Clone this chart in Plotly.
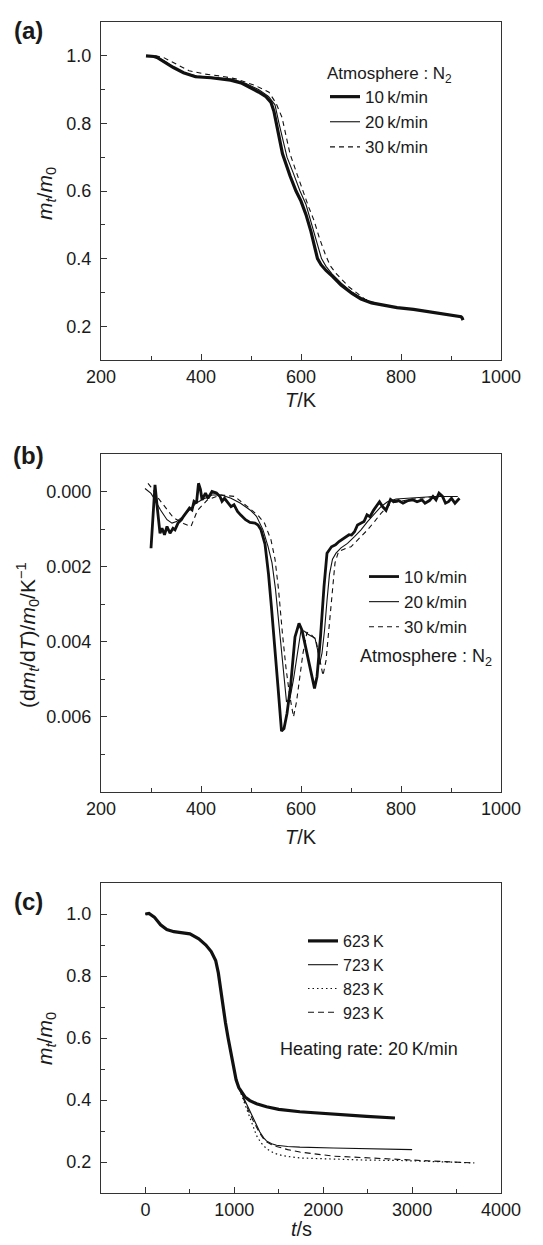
import plotly.graph_objects as go

# ---------------- Panel (a): TG curves, m_t/m_0 vs T ----------------
T_a10 = [290, 300, 306, 312, 325, 344, 365, 389, 420, 459, 480, 498, 515, 530, 540, 546, 551, 557, 563, 570,
         578, 590, 600, 610, 620, 628, 633, 640, 650, 664, 680, 702, 720, 741, 765, 792, 825, 856, 890, 920, 922, 924]
m_a10 = [1.0, 1.0, 0.998, 0.995, 0.983, 0.966, 0.95, 0.938, 0.935, 0.928, 0.92, 0.907, 0.893, 0.879, 0.862, 0.835,
         0.8, 0.75, 0.71, 0.68, 0.645, 0.6, 0.57, 0.53, 0.48, 0.43, 0.40, 0.382, 0.365, 0.346, 0.322, 0.297, 0.28,
         0.269, 0.262, 0.255, 0.25, 0.243, 0.235, 0.228, 0.225, 0.218]
T_a20 = [290, 300, 312, 330, 350, 370, 392, 420, 460, 490, 515, 535, 548, 556, 564, 572, 584, 598, 610, 622,
         633, 641, 650, 662, 680, 700, 720, 745, 770, 800, 830, 860, 890, 920]
m_a20 = [1.0, 1.0, 0.997, 0.982, 0.962, 0.948, 0.94, 0.937, 0.931, 0.918, 0.9, 0.88, 0.855, 0.8, 0.75, 0.7,
         0.655, 0.6, 0.56, 0.5, 0.44, 0.4, 0.377, 0.355, 0.328, 0.303, 0.285, 0.268, 0.26, 0.254, 0.249, 0.243,
         0.236, 0.228]
T_a30 = [290, 310, 325, 344, 360, 376, 408, 440, 472, 510, 536, 550, 562, 570, 578, 592, 606, 616, 626, 637,
         648, 658, 670, 696, 728, 760]
m_a30 = [1.0, 1.0, 0.995, 0.98, 0.967, 0.956, 0.946, 0.94, 0.931, 0.911, 0.892, 0.86, 0.818, 0.76, 0.71, 0.65,
         0.59, 0.55, 0.513, 0.46, 0.415, 0.38, 0.356, 0.316, 0.28, 0.262]

# ---------------- Panel (b): DTG curves ----------------
T_b10 = [300, 308, 313, 318, 322, 327, 332, 338, 344, 348, 354, 361, 365, 370, 377, 382, 386, 391, 395, 399,
         402, 409, 414, 422, 431, 438, 442, 447, 454, 460, 466, 473, 479, 489, 498, 508, 514, 520, 528, 535,
         541, 547, 554, 561, 566, 572, 579, 588, 596, 602, 609, 619, 627, 632, 639, 646, 652, 661, 669, 676,
         686, 696, 701, 707, 713, 720, 726, 732, 738, 745, 751, 757, 763, 770, 779, 785, 795, 804, 814, 823,
         832, 842, 848, 857, 864, 870, 876, 883, 889, 895, 901, 908, 917]
d_b10 = [0.00151, -0.00018, 0.00049, 0.00111, 0.00098, 0.00115, 0.00093, 0.00111, 0.00098, 0.00102, 0.00084,
         0.00075, 0.00066, 0.00056, 0.00044, 0.00049, 0.00026, 0.00031, -0.00022, -0.00005, 0.00022, 0.00004,
         0.00018, 0.0, 0.00004, 0.00013, 0.00026, 0.00018, 0.00031, 0.0004, 0.00035, 0.00053, 0.00062, 0.00075,
         0.00082, 0.00084, 0.00089, 0.00102, 0.0014, 0.0022, 0.0031, 0.0040, 0.0052, 0.00638, 0.00631, 0.00591,
         0.0052, 0.00387, 0.00351, 0.00369, 0.00413, 0.00476, 0.00524, 0.00493, 0.00387, 0.00253, 0.00164,
         0.00147, 0.00142, 0.00133, 0.00124, 0.00115, 0.00116, 0.00107, 0.00089, 0.00085, 0.0008, 0.00062,
         0.00067, 0.0005, 0.0004, 0.00027, 0.0004, 0.0005, 0.00021, 0.00027, 0.00024, 0.00031, 0.00024, 0.00022,
         0.00027, 0.00022, 0.00031, 0.00024, 0.00013, 0.00022, 0.00004, 0.00013, 0.00031, 0.00027, 0.00018,
         0.00031, 0.00018]
T_b20 = [288, 300, 306, 319, 332, 342, 351, 364, 377, 390, 402, 422, 441, 460, 479, 498, 511, 524, 534, 542,
         549, 556, 563, 571, 578, 585, 593, 600, 607, 614, 621, 628, 633, 637, 642, 647, 652, 657, 663, 670,
         680, 693, 707, 720, 733, 747, 760, 773, 790, 813, 840, 867, 890, 913]
d_b20 = [-0.00008, 0.00005, 0.00018, 0.00049, 0.00075, 0.00084, 0.0008, 0.00066, 0.00049, 0.00031, 0.00022,
         0.00009, 0.00009, 0.00018, 0.00031, 0.00049, 0.00066, 0.00102, 0.00146, 0.0019, 0.0026, 0.0036, 0.0046,
         0.0056, 0.0055, 0.0050, 0.0043, 0.0037, 0.00372, 0.0038, 0.00385, 0.0039, 0.0042, 0.0046, 0.0043,
         0.0037, 0.0029, 0.0022, 0.0018, 0.00164, 0.0015, 0.00138, 0.0012, 0.00102, 0.0008, 0.00058, 0.0004,
         0.00027, 0.0002, 0.00018, 0.00015, 0.00013, 0.00013, 0.00013]
T_b30 = [294, 300, 313, 328, 345, 365, 380, 393, 413, 440, 467, 493, 515, 527, 540, 548, 555, 563, 570, 577,
         585, 591, 597, 604, 612, 620, 630, 638, 644, 650, 656, 662, 668, 675, 688, 700, 717, 733, 747, 760,
         780, 813, 867, 913]
d_b30 = [-0.00022, -0.00012, 0.00015, 0.0004, 0.0007, 0.00085, 0.00093, 0.0005, 0.00022, 0.00009, 0.00013,
         0.0004, 0.00065, 0.00084, 0.00129, 0.0018, 0.0026, 0.0038, 0.0047, 0.0054, 0.0060, 0.0056, 0.0050,
         0.0043, 0.00375, 0.0038, 0.00396, 0.0045, 0.0049, 0.0045, 0.0037, 0.0027, 0.0019, 0.0016, 0.00152,
         0.00147, 0.00125, 0.00102, 0.0008, 0.00058, 0.00031, 0.00022, 0.00013, 0.00013]

# ---------------- Panel (c): isothermal end temperatures ----------------
t_c623 = [0, 40, 100, 170, 240, 320, 400, 500, 600, 680, 740, 790, 820, 845, 870, 900, 930, 960, 990, 1020,
          1050, 1080, 1120, 1174, 1250, 1362, 1500, 1737, 2112, 2488, 2807]
m_c623 = [1.0, 1.002, 0.99, 0.965, 0.95, 0.943, 0.94, 0.936, 0.92, 0.9, 0.879, 0.85, 0.81, 0.76, 0.7, 0.65,
          0.6, 0.555, 0.51, 0.465, 0.44, 0.425, 0.41, 0.398, 0.388, 0.378, 0.37, 0.362, 0.354, 0.347, 0.342]
t_c723 = [0, 40, 100, 170, 240, 320, 400, 500, 600, 680, 740, 790, 820, 845, 870, 900, 930, 960, 990, 1020,
          1050, 1100, 1137, 1175, 1212, 1250, 1287, 1330, 1362, 1420, 1475, 1600, 1737, 2112, 2488, 2800, 3000]
m_c723 = [1.0, 1.002, 0.99, 0.965, 0.95, 0.943, 0.94, 0.936, 0.92, 0.9, 0.879, 0.85, 0.81, 0.76, 0.7, 0.65,
          0.6, 0.555, 0.51, 0.465, 0.44, 0.41, 0.383, 0.36, 0.34, 0.318, 0.297, 0.278, 0.268, 0.259, 0.254,
          0.25, 0.248, 0.245, 0.243, 0.241, 0.24]
t_c823 = [0, 40, 100, 170, 240, 320, 400, 500, 600, 680, 740, 790, 820, 845, 870, 900, 930, 960, 990, 1020,
          1050, 1100, 1150, 1200, 1250, 1300, 1362, 1450, 1550, 1737, 2112, 2488, 2863, 3300, 3700]
m_c823 = [1.0, 1.002, 0.99, 0.965, 0.95, 0.943, 0.94, 0.936, 0.92, 0.9, 0.879, 0.85, 0.81, 0.76, 0.7, 0.65,
          0.6, 0.555, 0.51, 0.465, 0.44, 0.40, 0.36, 0.32, 0.285, 0.262, 0.243, 0.228, 0.22, 0.213, 0.209,
          0.206, 0.205, 0.201, 0.197]
t_c923 = [0, 40, 100, 170, 240, 320, 400, 500, 600, 680, 740, 790, 820, 845, 870, 900, 930, 960, 990, 1020,
          1050, 1100, 1137, 1175, 1212, 1250, 1287, 1330, 1362, 1420, 1475, 1600, 1737, 2112, 2488, 2863, 3238,
          3688]
m_c923 = [1.0, 1.002, 0.99, 0.965, 0.95, 0.943, 0.94, 0.936, 0.92, 0.9, 0.879, 0.85, 0.81, 0.76, 0.7, 0.65,
          0.6, 0.555, 0.51, 0.465, 0.44, 0.405, 0.378, 0.355, 0.333, 0.312, 0.292, 0.274, 0.265, 0.256, 0.25,
          0.24, 0.232, 0.219, 0.213, 0.209, 0.203, 0.197]

rate_names = ["10\u2009k/min", "20\u2009k/min", "30\u2009k/min"]
temp_names = ["623\u2009K", "723\u2009K", "823\u2009K", "923\u2009K"]

FONT = "Liberation Sans, Arial, Helvetica, sans-serif"
INK = "#1a1a1a"
FRAME = "#333333"

# pixel helpers (figure 543 x 1245, margins l=101 r=42 t=22 b=52)
W, H = 543, 1245
ML, MR, MT, MB = 101, 42, 22, 52
PW, PH = W - ML - MR, H - MT - MB


def fx(xp):
    return (xp - ML) / PW


def fy(yp):
    return 1 - (yp - MT) / PH


fig = go.Figure()

thick = dict(color="#111111", width=3.2)
thin = dict(color="#111111", width=1.1)
dash_a = dict(color="#111111", width=1.1, dash="5px,4px")

# (a)
fig.add_trace(go.Scatter(x=T_a30, y=m_a30, mode="lines", line=dash_a, name=rate_names[2],
                         xaxis="x", yaxis="y", legend="legend", legendrank=3))
fig.add_trace(go.Scatter(x=T_a20, y=m_a20, mode="lines", line=thin, name=rate_names[1],
                         xaxis="x", yaxis="y", legend="legend", legendrank=2))
fig.add_trace(go.Scatter(x=T_a10, y=m_a10, mode="lines", line=thick, name=rate_names[0],
                         xaxis="x", yaxis="y", legend="legend", legendrank=1))
# (b)
fig.add_trace(go.Scatter(x=T_b30, y=d_b30, mode="lines", line=dash_a, name=rate_names[2],
                         xaxis="x2", yaxis="y2", legend="legend2", legendrank=3))
fig.add_trace(go.Scatter(x=T_b20, y=d_b20, mode="lines", line=thin, name=rate_names[1],
                         xaxis="x2", yaxis="y2", legend="legend2", legendrank=2))
fig.add_trace(go.Scatter(x=T_b10, y=d_b10, mode="lines", line=dict(color="#111111", width=2.8),
                         name=rate_names[0], xaxis="x2", yaxis="y2", legend="legend2", legendrank=1))
# (c)
fig.add_trace(go.Scatter(x=t_c923, y=m_c923, mode="lines", line=dict(color="#111111", width=1.1, dash="6px,4px"),
                         name=temp_names[3], xaxis="x3", yaxis="y3", legend="legend3", legendrank=4))
fig.add_trace(go.Scatter(x=t_c823, y=m_c823, mode="lines", line=dict(color="#111111", width=1.2, dash="1.5px,3px"),
                         name=temp_names[2], xaxis="x3", yaxis="y3", legend="legend3", legendrank=3))
fig.add_trace(go.Scatter(x=t_c723, y=m_c723, mode="lines", line=thin, name=temp_names[1],
                         xaxis="x3", yaxis="y3", legend="legend3", legendrank=2))
fig.add_trace(go.Scatter(x=t_c623, y=m_c623, mode="lines", line=thick, name=temp_names[0],
                         xaxis="x3", yaxis="y3", legend="legend3", legendrank=1))

tickfont = dict(family=FONT, size=18, color=INK)
common = dict(showline=True, mirror=True, linecolor=FRAME, linewidth=1.2, showgrid=False, zeroline=False,
              ticks="inside", ticklen=6, tickwidth=1, tickcolor=FRAME, tickfont=tickfont)
xcommon = dict(common, ticklabelstandoff=0)
ycommon = dict(common, ticklabelstandoff=5)
minor_style = dict(ticks="inside", ticklen=4, tickcolor=FRAME)

dom_a = [fy(360), fy(22)]
dom_b = [fy(792), fy(454)]
dom_c = [fy(1193), fy(883)]

legfont = dict(family=FONT, size=17, color=INK)

fig.update_layout(
    width=W, height=H,
    margin=dict(l=ML, r=MR, t=MT, b=MB),
    paper_bgcolor="white", plot_bgcolor="white",
    font=dict(family=FONT, size=17, color=INK),
    xaxis=dict(domain=[0, 1], anchor="y", range=[200, 1000], tickvals=[200, 400, 600, 800, 1000],
               minor=dict(tickvals=[300, 500, 700, 900], **minor_style), **xcommon),
    yaxis=dict(domain=dom_a, anchor="x", range=[0.1, 1.1], tickvals=[0.2, 0.4, 0.6, 0.8, 1.0],
               tickformat=".1f", minor=dict(tickvals=[0.3, 0.5, 0.7, 0.9], **minor_style), **ycommon),
    xaxis2=dict(domain=[0, 1], anchor="y2", range=[200, 1000], tickvals=[200, 400, 600, 800, 1000],
                minor=dict(tickvals=[300, 500, 700, 900], **minor_style), **xcommon),
    yaxis2=dict(domain=dom_b, anchor="x2", range=[0.008, -0.001], tickvals=[0.0, 0.002, 0.004, 0.006],
                tickformat=".3f", minor=dict(tickvals=[0.001, 0.003, 0.005, 0.007], **minor_style), **ycommon),
    xaxis3=dict(domain=[0, 1], anchor="y3", range=[-500, 4000], tickvals=[0, 1000, 2000, 3000, 4000],
                minor=dict(tickvals=[500, 1500, 2500, 3500], **minor_style), **xcommon),
    yaxis3=dict(domain=dom_c, anchor="x3", range=[0.1, 1.1], tickvals=[0.2, 0.4, 0.6, 0.8, 1.0],
                tickformat=".1f", minor=dict(tickvals=[0.3, 0.5, 0.7, 0.9], **minor_style), **ycommon),
    legend=dict(x=fx(325), y=fy(57), xanchor="left", yanchor="top", bgcolor="rgba(0,0,0,0)",
                borderwidth=0, font=legfont,
                title=dict(text="Atmosphere : N<sub>2</sub>", font=legfont)),
    legend2=dict(x=fx(364), y=fy(559), xanchor="left", yanchor="top", bgcolor="rgba(0,0,0,0)",
                 borderwidth=0, font=legfont),
    legend3=dict(x=fx(303), y=fy(924), xanchor="left", yanchor="top", bgcolor="rgba(0,0,0,0)",
                 borderwidth=0, font=dict(family=FONT, size=16, color=INK)),
    showlegend=True,
)

ann = []


def add_text(text, xp, yp, size=17, angle=0, xanchor="center", bold=False):
    ann.append(dict(text=("<b>%s</b>" % text) if bold else text, x=fx(xp), y=fy(yp), xref="paper",
                    yref="paper", showarrow=False, xanchor=xanchor, yanchor="middle", textangle=angle,
                    font=dict(family=FONT, size=size, color=INK)))


add_text("(a)", 28, 30, size=24, bold=True)
add_text("(b)", 28, 455, size=24, bold=True)
add_text("(c)", 28, 901, size=24, bold=True)
add_text("<i>T</i>/K", 301, 400, size=20)
add_text("<i>T</i>/K", 301, 837, size=20)
add_text("<i>t</i>/s", 301, 1229, size=20)
add_text("<i>m</i><sub><i>t</i></sub>/<i>m</i><sub>0</sub>", 46, 193, size=21, angle=-90)
add_text("(d<i>m</i><sub><i>t</i></sub>/d<i>T</i>)/<i>m</i><sub>0</sub>/K<sup>\u22121</sup>", 27, 635, size=21,
         angle=-90)
add_text("<i>m</i><sub><i>t</i></sub>/<i>m</i><sub>0</sub>", 46, 1038, size=21, angle=-90)
add_text("Atmosphere : N<sub>2</sub>", 358, 657, size=18, xanchor="left")
add_text("Heating rate: 20\u2009K/min", 278, 1049, size=18, xanchor="left")

fig.update_layout(annotations=ann)

fig.write_html("out.html", config={"displayModeBar": False},
               post_script="document.body.style.margin='0';")
